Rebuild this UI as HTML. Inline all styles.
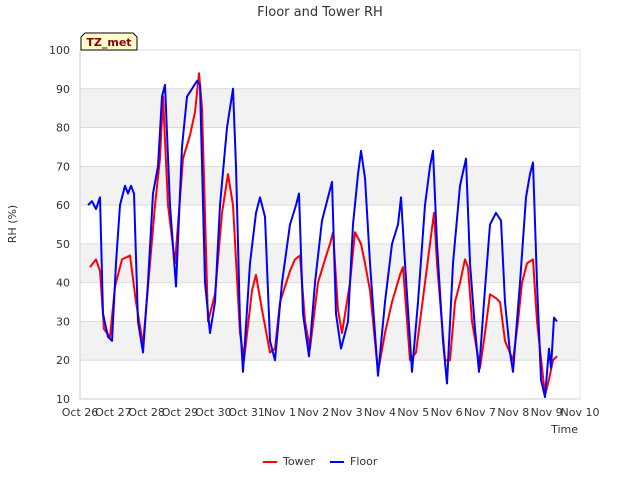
<!DOCTYPE html>
<html><head><meta charset="utf-8"><style>
body{margin:0;background:#fff;font-family:"Liberation Sans","DejaVu Sans",sans-serif}
svg text{font-family:"DejaVu Sans","Liberation Sans",sans-serif}
</style></head><body>
<svg id="c" width="640" height="480">
<text x="320" y="16" text-anchor="middle" font-size="13" fill="#333">Floor and Tower RH</text>
<g id="bands"></g><g id="grid"></g><g id="axes"></g><g id="series"></g>
<text x="16" y="224" text-anchor="middle" font-size="11" fill="#333" transform="rotate(-90 16 224)">RH (%)</text>
<text x="578" y="433" text-anchor="end" font-size="11" fill="#333">Time</text>
<g><path d="M81,50 L81,37 L85,33 L133,33 L137,37 L137,50 Z" fill="#ffffcc" stroke="#000" stroke-width="1"/><text x="109" y="46" text-anchor="middle" font-size="11" font-weight="bold" fill="#8b0000">TZ_met</text></g>
<g><line x1="263" y1="462" x2="277" y2="462" stroke="red" stroke-width="2"/><text x="283" y="465" font-size="11" fill="#333">Tower</text></g>
<g><line x1="330" y1="462" x2="344" y2="462" stroke="blue" stroke-width="2"/><text x="350" y="465" font-size="11" fill="#333">Floor</text></g>
</svg>
<script>
const xTickLabels=["Oct 26","Oct 27","Oct 28","Oct 29","Oct 30","Oct 31","Nov 1","Nov 2","Nov 3","Nov 4","Nov 5","Nov 6","Nov 7","Nov 8","Nov 9","Nov 10"];
const yTicks=[10,20,30,40,50,60,70,80,90,100];
const towerDays=[0.3,0.48,0.6,0.72,0.9,1.05,1.26,1.5,1.68,1.89,2.1,2.25,2.4,2.49,2.64,2.85,3.09,3.3,3.45,3.57,3.66,3.84,4.05,4.26,4.44,4.59,4.8,4.92,5.16,5.28,5.46,5.7,5.85,6.0,6.3,6.45,6.6,6.75,6.9,7.14,7.35,7.5,7.59,7.74,7.86,8.1,8.25,8.43,8.55,8.7,8.94,9.15,9.36,9.6,9.69,9.9,10.08,10.35,10.5,10.62,10.71,10.95,11.1,11.25,11.4,11.55,11.64,11.76,12.0,12.15,12.3,12.48,12.6,12.75,12.99,13.14,13.26,13.41,13.59,13.71,13.95,14.07,14.19,14.31];
const towerRH=[44,46,43,28,26,39,46,47,35,24,45,60,72,88,60,45,72,78,84,94,85,30,37,58,68,60,27,20,38,42,33,22,23,35,43,46,47,30,23,40,46,50,53,33,27,40,53,50,45,38,17,27,35,42,44,20,22,40,50,58,45,20,20,35,40,46,44,30,18,27,37,36,35,25,20,30,40,45,46,30,11,15,20,21];
const floorDays=[0.24,0.36,0.48,0.6,0.69,0.84,0.96,1.08,1.2,1.35,1.44,1.53,1.62,1.74,1.89,2.04,2.19,2.34,2.46,2.55,2.7,2.88,3.06,3.21,3.36,3.51,3.6,3.75,3.9,4.05,4.2,4.41,4.59,4.68,4.8,4.89,5.1,5.28,5.4,5.55,5.7,5.85,6.06,6.3,6.48,6.57,6.69,6.87,7.05,7.26,7.44,7.56,7.68,7.83,8.04,8.19,8.34,8.43,8.55,8.7,8.94,9.15,9.36,9.54,9.63,9.75,9.96,10.14,10.35,10.5,10.59,10.71,10.89,11.01,11.19,11.4,11.58,11.7,11.85,11.97,12.12,12.3,12.48,12.63,12.75,12.9,12.99,13.2,13.38,13.5,13.59,13.71,13.83,13.95,14.07,14.13,14.22,14.31];
const floorRH=[60,61,59,62,32,26,25,45,60,65,63,65,63,30,22,40,63,70,88,91,60,39,75,88,90,92,91,40,27,35,60,80,90,70,30,17,45,58,62,57,25,20,40,55,60,63,32,21,40,56,62,66,32,23,30,55,68,74,67,45,16,35,50,55,62,45,17,35,60,70,74,50,25,14,45,65,72,45,28,17,35,55,58,56,35,22,17,40,62,68,71,40,15,10.5,23,18,31,30];
const L=80,R=580,T=50,B=399;
const xs=d=>L+(R-L)*d/15, ys=v=>B-(B-T)*(v-10)/90;
const NS="http://www.w3.org/2000/svg";
function mk(p,t,a){const e=document.createElementNS(NS,t);for(const k in a)e.setAttribute(k,a[k]);p.appendChild(e);return e;}
const bands=document.getElementById('bands'),grid=document.getElementById('grid'),axes=document.getElementById('axes'),ser=document.getElementById('series');
mk(bands,'rect',{x:L,y:T,width:R-L,height:B-T,fill:'#fff'});
for(let i=0;i<yTicks.length-1;i++){
 if(i%2===1){const r=mk(bands,'rect',{x:L,y:ys(yTicks[i+1]),width:R-L,height:ys(yTicks[i])-ys(yTicks[i+1]),fill:'#f2f2f2'});
 
 }
}
yTicks.forEach(v=>{
 mk(grid,'line',{x1:L,x2:R,y1:ys(v),y2:ys(v),stroke:'#dcdcdc'});
 const t=mk(axes,'text',{x:L-10,y:ys(v)+4,'text-anchor':'end','font-size':11,fill:'#333'});t.textContent=v;
 
 
});
xTickLabels.forEach((s,i)=>{
 const t=mk(axes,'text',{x:xs(i),y:B+17,'text-anchor':'middle','font-size':11,fill:'#333'});t.textContent=s;
 
 
});
mk(axes,'line',{x1:L,x2:L,y1:T,y2:B,stroke:'#ccc'});
mk(axes,'line',{x1:R,x2:R,y1:T,y2:B,stroke:'#e6e6e6'});
mk(axes,'line',{x1:L,x2:R,y1:B,y2:B,stroke:'#ccc'});
function line(ds,vs,c,n){const p=mk(ser,'polyline',{points:ds.map((d,i)=>xs(d)+','+ys(vs[i])).join(' '),fill:'none',stroke:c,'stroke-width':2,'stroke-linejoin':'round'});
 
 }
line(towerDays,towerRH,'red','tower-line');
line(floorDays,floorRH,'blue','floor-line');
</script>
</body></html>
